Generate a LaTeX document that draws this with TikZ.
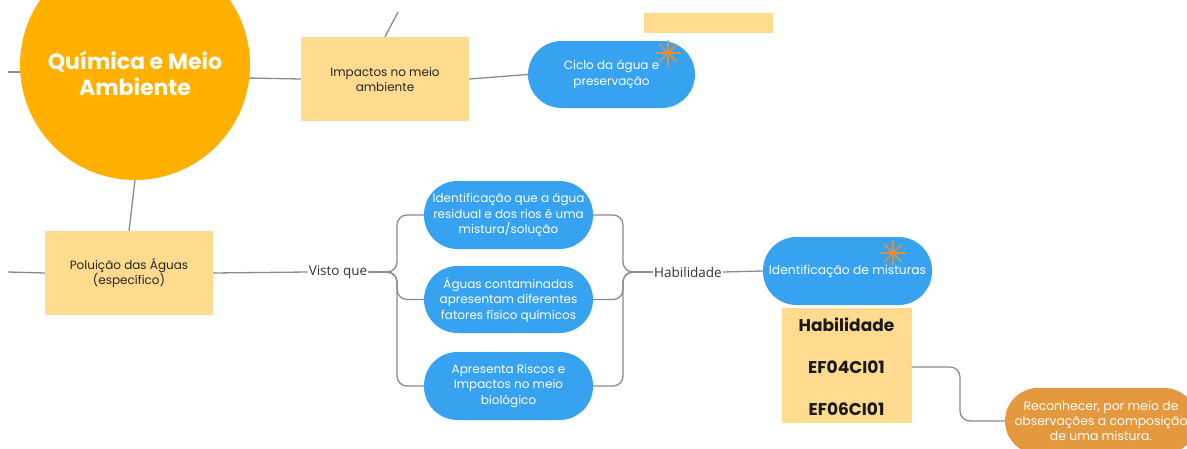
\documentclass[tikz,border=0pt]{standalone}
\usepackage{fontspec}
\setmainfont{Poppins}
\newfontfamily\lblfont{Open Sans}
\usetikzlibrary{calc,backgrounds}
\definecolor{circOrange}{HTML}{FFB000}
\definecolor{boxYellow}{HTML}{FFDB8F}
\definecolor{nodeBlue}{HTML}{37A2F0}
\definecolor{nodeOrange}{HTML}{E5993F}
\definecolor{starOrange}{HTML}{E0903A}
\definecolor{lineGray}{HTML}{8A8A8A}
\tikzset{
  conn/.style={draw=lineGray, line width=1.3pt},
  ybox/.style={fill=boxYellow, inner sep=0pt, align=center, font=\fontsize{12}{15}\selectfont, text=black!85},
  bpill/.style={fill=nodeBlue, rounded corners=33.5pt, inner sep=0pt, align=center, text=white, font=\fontsize{12}{15.5}\selectfont},
  lbl/.style={inner sep=1pt, font=\lblfont\fontsize{13.5}{15}\selectfont, text=black!80},
  starline/.style={draw=starOrange, line width=1.6pt, line cap=round},
  habtxt/.style={font=\fontsize{17}{20}\selectfont\bfseries, text=black!90},
}
\newcommand{\drawstar}[2]{%
  \foreach \a in {0,45,90,135}{\draw[starline] ($(#1,#2)+(\a:12)$) -- ($(#1,#2)+(\a+180:12)$);}}
\begin{document}
\begin{tikzpicture}[x=1pt,y=-1pt]
\useasboundingbox (0,0) rectangle (1187,448);
\clip (0,0) rectangle (1187,448);

% off-frame coordinates
\coordinate (offL1) at (8,72);
\coordinate (offL2) at (8,272);
\coordinate (offT) at (398,12);

% nodes
\node[circle, fill=circOrange, minimum size=230pt, inner sep=0pt] (main) at (135,65) {};
\node[text=white, align=center, font=\fontsize{22}{26}\selectfont\bfseries] (mainTxt) at (135,73) {Química e Meio\\Ambiente};

\node[ybox, minimum width=168pt, minimum height=84pt] (impactos) at (385,79) {Impactos no meio\\ambiente};
\node[fill=boxYellow, minimum width=129pt, minimum height=20pt, inner sep=0pt] (topbox) at (708.5,23) {};
\node[bpill, minimum width=167pt, minimum height=67pt] (ciclo) at (611.5,74.5) {Ciclo da água e\\preservação};

\node[ybox, minimum width=168pt, minimum height=84pt] (poluicao) at (129,273) {Poluição das Águas\\(específico)};
\node[lbl] (visto) at (338,272) {Visto que};

\node[bpill, minimum width=169pt, minimum height=68pt] (t1) at (508.5,215) {Identificação que a água\\residual e dos rios é uma\\mistura/solução};
\node[bpill, minimum width=169pt, minimum height=67pt] (t2) at (508.5,299.5) {Águas contaminadas\\apresentam diferentes\\fatores físico químicos};
\node[bpill, minimum width=169pt, minimum height=68pt] (t3) at (508.5,386) {Apresenta Riscos e\\Impactos no meio\\biológico};

\node[lbl] (habLbl) at (688,272) {Habilidade};
\node[bpill, minimum width=169pt, minimum height=68pt, font=\fontsize{12.3}{14}\selectfont] (ident) at (847.5,271) {Identificação de misturas};

\node[fill=boxYellow, minimum width=130pt, minimum height=115pt, inner sep=0pt] (habBox) at (846.5,365.5) {};
\node[habtxt] (habT1) at (846.5,325) {Habilidade};
\node[habtxt] (habT2) at (846.5,367) {EF04CI01};
\node[habtxt] (habT3) at (846.5,409) {EF06CI01};

\node[fill=nodeOrange, rounded corners=33pt, minimum width=192pt, minimum height=66pt, inner sep=0pt, align=center, text=white, font=\fontsize{12.4}{15}\selectfont] (recon) at (1101,421) {Reconhecer, por meio de\\observações a composição\\de uma mistura.};

% stars
\drawstar{668}{53}
\drawstar{893}{253}

% connectors
\begin{scope}[on background layer]
\draw[conn] (offL1) -- (main.center |- offL1);
\draw[conn] (main.center |- 0,76) -- (impactos.west);
\draw[conn] (main.south) -- (poluicao.north);
\end{scope}
\draw[conn] (impactos.north) -- (offT);
\draw[conn] (impactos.east) -- (ciclo.west);
\draw[conn] (offL2) -- (poluicao.west);
\draw[conn] (poluicao.east) -- (visto.west);
\draw[conn, rounded corners=10pt] (visto.east) -- (397,272) |- (t1.west);
\draw[conn, rounded corners=10pt] (visto.east) -- (397,272) |- (t2.west);
\draw[conn, rounded corners=10pt] (visto.east) -- (397,272) |- (t3.west);
\draw[conn, rounded corners=10pt] (t1.east) -| (623,272) -- (habLbl.west);
\draw[conn, rounded corners=10pt] (t2.east) -| (623,272) -- (habLbl.west);
\draw[conn, rounded corners=10pt] (t3.east) -| (623,272) -- (habLbl.west);
\draw[conn] (habLbl.east) -- (ident.west);
\draw[conn, rounded corners=10pt] (habBox.east |- habT2) -- (960,367) |- (recon.west);
\end{tikzpicture}
\end{document}
